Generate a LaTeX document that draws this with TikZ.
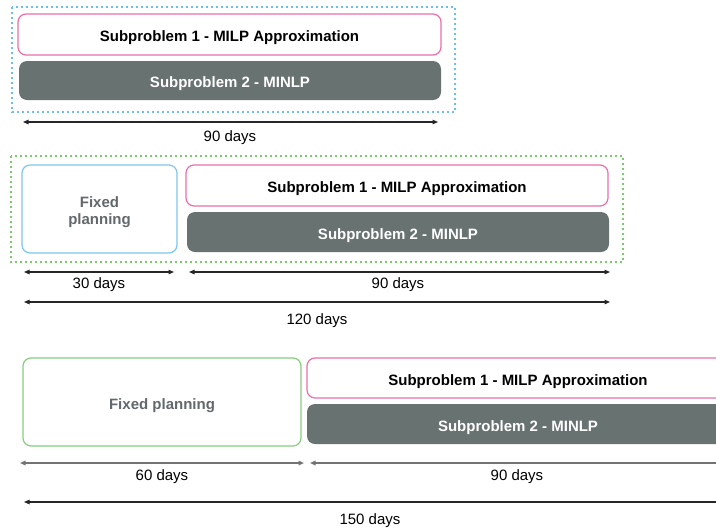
\documentclass[tikz,border=0pt]{standalone}
\usepackage{fontspec}
\setmainfont{Liberation Sans}
\usetikzlibrary{arrows.meta}
\definecolor{pinkline}{HTML}{EA6FA8}
\definecolor{slate}{HTML}{687271}
\definecolor{fixedtext}{HTML}{62686B}
\definecolor{bluedot}{HTML}{6CC0E8}
\definecolor{greendot}{HTML}{7ACB6A}
\definecolor{blueline}{HTML}{7DC6EE}
\definecolor{greenline}{HTML}{86CE7D}
\definecolor{spangray}{HTML}{737373}
\begin{document}
\begin{tikzpicture}[x=1pt,y=-1pt,
  box/.style={rounded corners=8pt, line width=1.2pt, inner sep=0pt,
    font=\bfseries\fontsize{15}{16.6}\selectfont},
  oneline/.style={text height=14pt, text depth=0pt},
  milp/.style={box, oneline, draw=pinkline, fill=white},
  minlp/.style={box, oneline, fill=slate, text=white},
  fixedbox/.style={box, fill=white, text=fixedtext, align=center},
  group/.style={line width=1.7pt, dash pattern=on 1.7pt off 3.3pt},
  span/.style={{Triangle[length=5.5pt,width=4.5pt]}-{Triangle[length=5.5pt,width=4.5pt]}, line width=1.1pt, draw=black!85},
  thickspan/.style={span, line width=1.8pt, draw=spangray},
  lbl/.style={anchor=base, inner sep=0pt, font=\fontsize{15}{18}\selectfont}]
\useasboundingbox (0,0) rectangle (716,531);
\clip (0,0) rectangle (716,531);

% ---- 90-day horizon ----
\draw[group, draw=bluedot] (12,7) rectangle (455,112);
\node[milp, minimum width=423pt, minimum height=41pt] (mA) at (229.5,34.5) {Subproblem 1 - MILP Approximation};
\node[minlp, minimum width=422pt, minimum height=39pt] (nA) at (230,80.5) {Subproblem 2 - MINLP};
\coordinate (sA1) at (23,122);
\coordinate (sA2) at (438,122);
\draw[span] (sA1) -- (sA2);
\node[lbl] (lA) at (230,141) {90 days};

% ---- 120-day horizon ----
\draw[group, draw=greendot] (11,156) rectangle (623,262);
\node[fixedbox, text height=30pt, text depth=0pt, draw=blueline, minimum width=155pt, minimum height=88pt] (fB) at (99.5,209) {Fixed\\planning};
\node[milp, minimum width=422pt, minimum height=41pt] (mB) at (397,185.5) {Subproblem 1 - MILP Approximation};
\node[minlp, minimum width=422pt, minimum height=40pt] (nB) at (398,232) {Subproblem 2 - MINLP};
\coordinate (sB1) at (24,272);
\coordinate (sB2) at (174,272);
\coordinate (sB3) at (189,272);
\coordinate (sB4) at (610,272);
\coordinate (sB5) at (24,302);
\coordinate (sB6) at (610,302);
\draw[span] (sB1) -- (sB2);
\draw[span] (sB3) -- (sB4);
\draw[span] (sB5) -- (sB6);
\node[lbl] (lB1) at (99,288.5) {30 days};
\node[lbl] (lB2) at (398,288.5) {90 days};
\node[lbl] (lB3) at (317,324) {120 days};

% ---- 150-day horizon ----
\node[fixedbox, oneline, draw=greenline, minimum width=278pt, minimum height=88pt] (fC) at (162,402) {Fixed planning};
\node[milp, minimum width=422pt, minimum height=40pt] (mC) at (518,378) {Subproblem 1 - MILP Approximation};
\node[minlp, minimum width=422pt, minimum height=40pt] (nC) at (518,424) {Subproblem 2 - MINLP};
\coordinate (sC1) at (20,463);
\coordinate (sC2) at (304,463);
\coordinate (sC3) at (310,463);
\coordinate (sC4) at (725,463);
\coordinate (sC5) at (24,502);
\coordinate (sC6) at (740,502);
\draw[thickspan] (sC1) -- (sC2);
\draw[thickspan] (sC3) -- (sC4);
\draw[span] (sC5) -- (sC6);
\node[lbl] (lC1) at (162,480.5) {60 days};
\node[lbl] (lC2) at (517,480.5) {90 days};
\node[lbl] (lC3) at (370,524) {150 days};
\end{tikzpicture}
\end{document}
